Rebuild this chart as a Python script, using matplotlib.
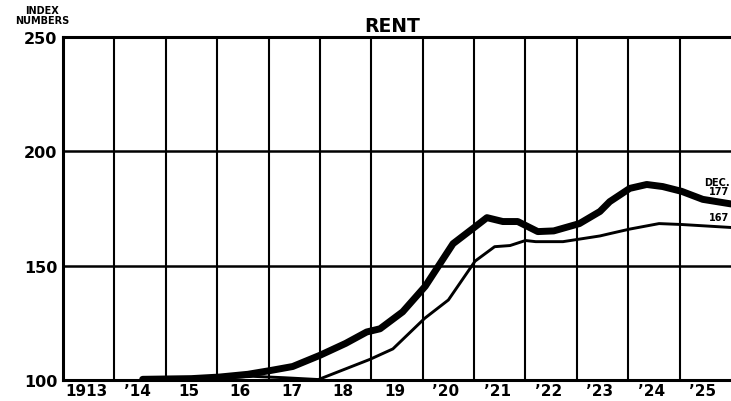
import matplotlib
matplotlib.use("Agg")
import matplotlib.pyplot as plt

# Rent index numbers (1913 = 100)
heavy_years = [1914.55, 1915.5, 1916.05, 1916.6, 1917.05, 1917.47, 1918.0, 1918.5,
               1918.91, 1919.17, 1919.61, 1920.05, 1920.59, 1921.02, 1921.25,
               1921.56, 1921.85, 1922.24, 1922.55, 1923.05, 1923.45, 1923.64,
               1924.03, 1924.36, 1924.67, 1925.04, 1925.45, 1926.0]
heavy_index = [100.3, 100.6, 101.3, 102.5, 104.2, 105.9, 110.8, 116.0,
               121.0, 122.4, 129.8, 141.0, 159.6, 167.0, 171.0,
               169.3, 169.3, 164.9, 165.2, 168.4, 173.7, 178.0,
               183.8, 185.5, 184.6, 182.5, 179.0, 177.0]

light_years = [1914.55, 1916.0, 1916.7, 1917.3, 1917.97, 1918.97, 1919.42,
               1920.04, 1920.5, 1921.02, 1921.4, 1921.7, 1922.0, 1922.2,
               1922.73, 1923.45, 1923.64, 1924.03, 1924.6, 1925.04, 1926.0]
light_index = [100.0, 100.8, 101.6, 101.0, 100.2, 109.0, 113.6,
               127.0, 135.0, 152.0, 158.3, 158.8, 161.0, 160.5,
               160.5, 163.0, 164.0, 166.0, 168.4, 168.0, 166.7]

year_labels = ["1913", "\u201914", "15", "16", "17", "18", "19",
               "\u201920", "\u201921", "\u201922", "\u201923", "\u201924", "\u201925"]
y_ticks = [100, 150, 200, 250]

fig = plt.figure(figsize=(7.31, 4.02), dpi=100)
ax = fig.add_axes([63 / 731, 1 - 381 / 402, 1 - 63 / 731, (381 - 38) / 402])

# grid: one column per year, horizontal rules at 150 and 200
for yr in range(1914, 1926):
    ax.axvline(yr, color="black", lw=1.5, zorder=1)
for v in (150, 200):
    ax.axhline(v, color="black", lw=1.8, zorder=1)

ax.plot(light_years, light_index, color="black", lw=2.1,
        solid_capstyle="round", solid_joinstyle="round", zorder=3)
ax.plot(heavy_years, heavy_index, color="black", lw=5.0,
        solid_capstyle="round", solid_joinstyle="round", zorder=4)

ax.set_xlim(1913, 1926)
ax.set_ylim(100, 250)

ax.set_xticks([1913.45 + i for i in range(len(year_labels))])
ax.set_xticklabels(year_labels, fontsize=11, fontweight="bold")
ax.set_yticks(y_ticks)
ax.set_yticklabels([str(v) for v in y_ticks], fontsize=11.5, fontweight="bold")
ax.tick_params(axis="both", length=0, pad=2)
ax.tick_params(axis="y", pad=4)

for side in ("left", "top", "bottom"):
    ax.spines[side].set_linewidth(2.2)
ax.spines["right"].set_visible(False)

ax.text(1925.97, 180.5, "DEC.\n177", ha="right", va="bottom", fontsize=7,
        fontweight="bold", linespacing=0.9)
ax.text(1925.97, 169.0, "167", ha="right", va="bottom", fontsize=7,
        fontweight="bold")

fig.text(392 / 731, 1 - 26 / 402, "RENT", ha="center", va="center",
         fontsize=13.5, fontweight="bold")
fig.text(42 / 731, 1 - 16 / 402, "INDEX\nNUMBERS", ha="center", va="center",
         fontsize=7, fontweight="bold", linespacing=0.95)

fig.savefig("out.png", dpi=100)
